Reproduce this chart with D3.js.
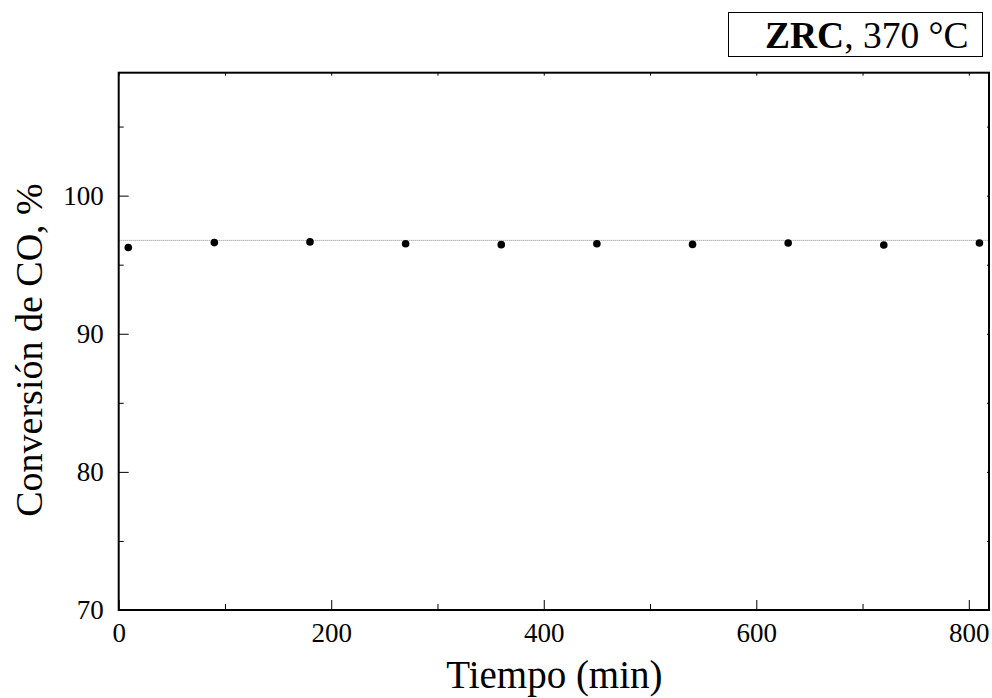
<!DOCTYPE html>
<html>
<head>
<meta charset="utf-8">
<script src="https://cdn.jsdelivr.net/npm/d3@7"></script>
<style>
  body { margin: 0; background: #fff; }
  svg { font-family: "Liberation Serif", "Times New Roman", serif; }
  .axis path, .axis line { stroke: #000; }
</style>
</head>
<body>
<svg width="992" height="698"></svg>
<script>
// data
const tiempo = [9, 90, 180, 270, 360, 450, 540, 630, 720, 810];
const conversion = [96.25, 96.6, 96.65, 96.52, 96.45, 96.52, 96.47, 96.57, 96.43, 96.57];
const promedio = 96.76;
const xTicks = [0, 200, 400, 600, 800];
const yTicks = [70, 80, 90, 100];
const xMinor = [100, 300, 500, 700];
const yMinor = [75, 85, 95, 105];

const serif = "Liberation Serif, Times New Roman, serif";
const svg = d3.select("svg");
const margin = {left: 118.7, top: 72.7, right: 3, bottom: 88};
const w = 992 - margin.left - margin.right;
const h = 698 - margin.top - margin.bottom;

const x = d3.scaleLinear().domain([0, 819]).range([0, w]);
const y = d3.scaleLinear().domain([70, 108.9]).range([h, 0]);

const g = svg.append("g").attr("transform", `translate(${margin.left},${margin.top})`);

function styleAxis(a) {
  a.attr("font-family", serif).attr("font-size", 27);
  a.select(".domain").remove();
  a.selectAll("text").attr("fill", "#000").style("font-family", serif);
}

// reference line (dotted)
g.append("line")
  .attr("x1", 0).attr("x2", w)
  .attr("y1", y(promedio)).attr("y2", y(promedio))
  .attr("stroke", "#888").attr("stroke-width", 1)
  .attr("stroke-dasharray", "1,1");

// points
g.selectAll(".pt")
  .data(tiempo.map((t, i) => [t, conversion[i]]))
  .join("circle")
  .attr("class", "pt")
  .attr("cx", d => x(d[0]))
  .attr("cy", d => y(d[1]))
  .attr("r", 3.8)
  .attr("fill", "#000");

// bottom axis
g.append("g").attr("class", "axis")
  .attr("transform", `translate(0,${h})`)
  .call(d3.axisBottom(x).tickValues(xTicks).tickSize(-10).tickPadding(13).tickSizeOuter(0))
  .call(styleAxis);
g.append("g").attr("class", "axis")
  .attr("transform", `translate(0,${h})`)
  .call(d3.axisBottom(x).tickValues(xMinor).tickSize(-6).tickFormat("").tickSizeOuter(0))
  .call(styleAxis);

// left axis
g.append("g").attr("class", "axis")
  .call(d3.axisLeft(y).tickValues(yTicks).tickSize(-10).tickPadding(15).tickSizeOuter(0))
  .call(styleAxis);
g.append("g").attr("class", "axis")
  .call(d3.axisLeft(y).tickValues(yMinor).tickSize(-5).tickFormat("").tickSizeOuter(0))
  .call(styleAxis);

// top and right: tiny inward ticks
g.append("g").attr("class", "axis")
  .call(d3.axisTop(x).tickValues(xTicks.concat(xMinor)).tickSize(-3).tickFormat("").tickSizeOuter(0))
  .call(styleAxis);
g.append("g").attr("class", "axis")
  .attr("transform", `translate(${w},0)`)
  .call(d3.axisRight(y).tickValues(yTicks.concat(yMinor)).tickSize(-2).tickFormat("").tickSizeOuter(0))
  .call(styleAxis);

// frame
g.append("rect")
  .attr("width", w).attr("height", h)
  .attr("fill", "none").attr("stroke", "#000").attr("stroke-width", 2);

// axis titles
svg.append("text")
  .attr("x", margin.left + x(410)).attr("y", 688)
  .attr("text-anchor", "middle")
  .attr("font-size", 39)
  .text("Tiempo (min)");

svg.append("text")
  .attr("transform", "translate(42,350) rotate(-90)")
  .attr("text-anchor", "middle")
  .attr("font-size", 38)
  .text("Conversión de CO, %");

// label box
svg.append("rect")
  .attr("x", 728.5).attr("y", 12.5)
  .attr("width", 254).attr("height", 44)
  .attr("fill", "#fff").attr("stroke", "#000").attr("stroke-width", 1);
const lab = svg.append("text")
  .attr("x", 765).attr("y", 48)
  .attr("font-size", 37.5);
lab.append("tspan").attr("font-weight", "bold").text("ZRC");
lab.append("tspan").text(", 370 °C");
</script>
</body>
</html>
